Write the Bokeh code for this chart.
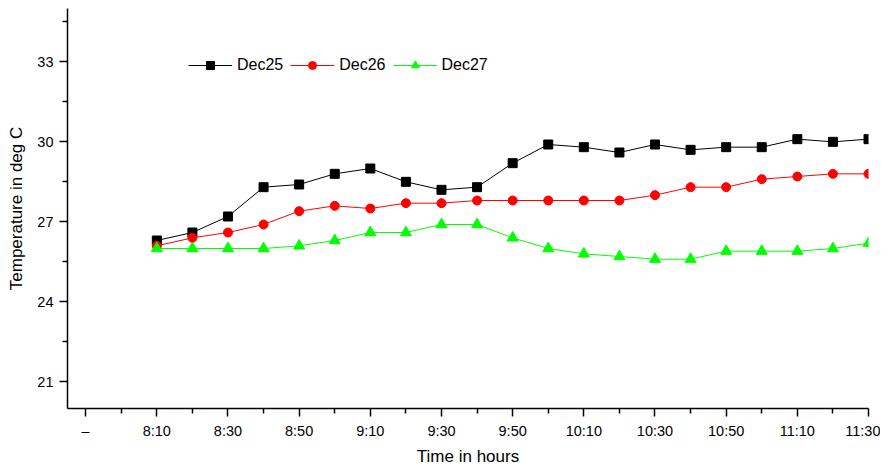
from bokeh.plotting import figure
from bokeh.models import FixedTicker, Legend, LegendItem, Range1d
from bokeh.embed import file_html
from bokeh.resources import INLINE

# ---- data ----
times = ["8:10", "8:20", "8:30", "8:40", "8:50", "9:00", "9:10", "9:20", "9:30", "9:40",
         "9:50", "10:00", "10:10", "10:20", "10:30", "10:40", "10:50", "11:00", "11:10",
         "11:20", "11:30"]
dec25 = [26.3, 26.6, 27.2, 28.3, 28.4, 28.8, 29.0, 28.5, 28.2, 28.3,
         29.2, 29.9, 29.8, 29.6, 29.9, 29.7, 29.8, 29.8, 30.1, 30.0, 30.1]
dec26 = [26.1, 26.4, 26.6, 26.9, 27.4, 27.6, 27.5, 27.7, 27.7, 27.8,
         27.8, 27.8, 27.8, 27.8, 28.0, 28.3, 28.3, 28.6, 28.7, 28.8, 28.8]
dec27 = [26.0, 26.0, 26.0, 26.0, 26.1, 26.3, 26.6, 26.6, 26.9, 26.9,
         26.4, 26.0, 25.8, 25.7, 25.6, 25.6, 25.9, 25.9, 25.9, 26.0, 26.2]
tick_times = ["7:50", "8:10", "8:30", "8:50", "9:10", "9:30", "9:50", "10:10", "10:30",
              "10:50", "11:10", "11:30"]
tick_labels = ["\u2013", "8:10", "8:30", "8:50", "9:10", "9:30", "9:50", "10:10", "10:30",
               "10:50", "11:10", "11:30"]
minor_times = ["8:00", "8:20", "8:40", "9:00", "9:20", "9:40", "10:00", "10:20", "10:40",
               "11:00", "11:20"]
y_ticks = [21, 24, 27, 30, 33]
y_minor = [22.5, 25.5, 28.5, 31.5, 34.5]


def to_min(t):
    h, m = t.split(":")
    return (int(h) - 8) * 60 + int(m)


x = [to_min(t) for t in times]
xt = [to_min(t) for t in tick_times]
xm = [to_min(t) for t in minor_times]

FONT = "Liberation Sans"

p = figure(width=880, height=468, output_backend="svg", toolbar_location=None,
           x_range=Range1d(-15.1, 210), y_range=Range1d(20, 35),
           min_border_left=67, min_border_right=12, min_border_top=8, min_border_bottom=50)
p.outline_line_color = None
p.xgrid.visible = False
p.ygrid.visible = False

p.xaxis.ticker = FixedTicker(ticks=xt, minor_ticks=xm)
p.xaxis.major_label_overrides = {v: lab for v, lab in zip(xt, tick_labels)}
p.yaxis.ticker = FixedTicker(ticks=y_ticks, minor_ticks=y_minor)

p.xaxis.axis_label = "Time in hours"
p.yaxis.axis_label = "Temperature in deg C"
for ax in (p.xaxis, p.yaxis):
    ax.axis_label_text_font = FONT
    ax.axis_label_text_font_size = "17px"
    ax.axis_label_text_font_style = "normal"
    ax.axis_label_text_color = "black"
    ax.major_label_text_font = FONT
    ax.major_label_text_font_size = "14.5px"
    ax.major_label_text_color = "black"
    ax.axis_line_width = 1.5
    ax.axis_line_color = "black"
    ax.major_tick_line_width = 1.5
    ax.minor_tick_line_width = 1.5
    ax.major_tick_line_color = "black"
    ax.minor_tick_line_color = "black"
    ax.major_tick_out = 8
    ax.major_tick_in = 0
    ax.minor_tick_out = 5
    ax.minor_tick_in = 0
    ax.major_label_standoff = 6
p.xaxis.axis_label_standoff = 5
p.yaxis.axis_label_standoff = 8

series = [
    ("Dec25", dec25, "black", "square", 9),
    ("Dec26", dec26, "#ff0000", "circle", 9),
    ("Dec27", dec27, "#00ff00", "triangle", 11),
]
items = []
for name, ys, col, mk, sz in series:
    ln = p.line(x, ys, line_color=col, line_width=1)
    sc = p.scatter(x, ys, marker=mk, size=sz, fill_color=col, line_color=col)
    items.append(LegendItem(label=name, renderers=[ln, sc]))

legend = Legend(items=items, orientation="horizontal", location=(121, 333),
                glyph_width=44, glyph_height=20, label_standoff=5, spacing=7,
                padding=0, margin=0, border_line_color=None, background_fill_alpha=0,
                label_text_font=FONT, label_text_font_size="16px", label_text_color="black")
p.add_layout(legend)

open("out.html", "w").write(file_html(p, INLINE))
